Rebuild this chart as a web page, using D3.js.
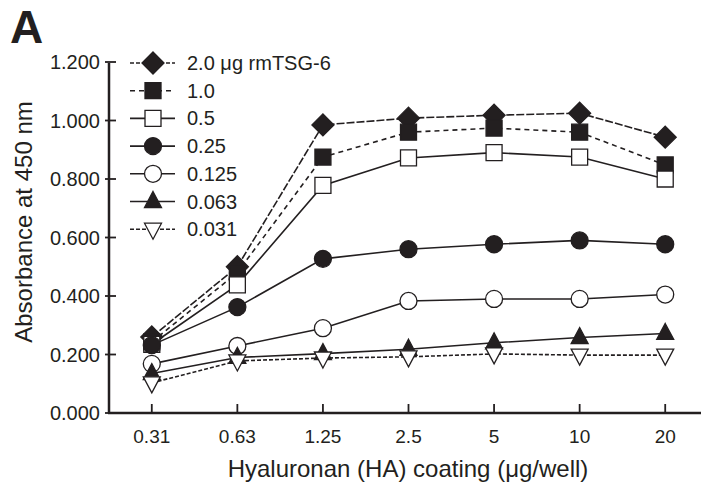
<!DOCTYPE html>
<html>
<head>
<meta charset="utf-8">
<script src="https://cdn.jsdelivr.net/npm/d3@7"></script>
<style>
  body { margin: 0; background: #fff; }
  svg text { font-family: "Liberation Sans", Arial, sans-serif; fill: #231f20; }
</style>
</head>
<body>
<div id="chart"></div>
<script>
// HA coating amounts (x categories)
const coating = ["0.31", "0.63", "1.25", "2.5", "5", "10", "20"];
const yTicks = [0, 0.2, 0.4, 0.6, 0.8, 1.0, 1.2];

// rmTSG-6 series
const seriesNames = ["2.0 \u03bcg rmTSG-6", "1.0", "0.5", "0.25", "0.125", "0.063", "0.031"];
const tsg2000 = [0.26, 0.50, 0.985, 1.008, 1.018, 1.025, 0.943];
const tsg1000 = [0.243, 0.48, 0.875, 0.96, 0.974, 0.96, 0.848];
const tsg0500 = [0.235, 0.438, 0.778, 0.872, 0.89, 0.875, 0.80];
const tsg0250 = [0.232, 0.362, 0.527, 0.56, 0.577, 0.59, 0.577];
const tsg0125 = [0.168, 0.229, 0.29, 0.383, 0.39, 0.39, 0.405];
const tsg0063 = [0.135, 0.19, 0.203, 0.218, 0.24, 0.258, 0.272];
const tsg0031 = [0.103, 0.178, 0.188, 0.192, 0.202, 0.198, 0.198];

const seriesValues = [tsg2000, tsg1000, tsg0500, tsg0250, tsg0125, tsg0063, tsg0031];
const markerType = ["diamond", "square", "square", "circle", "circle", "triangle", "triangleDown"];
const markerFilled = [true, true, false, true, false, true, false];
const lineDash = ["8,2", "5,4", null, null, null, null, "4,2"];

const width = 705, height = 488;
const margin = {left: 109, top: 62, bottom: 75};

const svg = d3.select("#chart").append("svg")
    .attr("width", width)
    .attr("height", height);

const x = d3.scalePoint()
    .domain(coating)
    .range([109, 708])
    .padding(0.5);

const y = d3.scaleLinear()
    .domain([0, 1.2])
    .range([height - margin.bottom, margin.top]);

const x0 = 109, yBase = y(0);

// panel letter
svg.append("text")
    .attr("x", 10).attr("y", 43)
    .style("font-size", "46px")
    .style("font-weight", "bold")
    .text("A");

// y axis
const yAxis = svg.append("g");
yAxis.append("line")
    .attr("x1", x0).attr("x2", x0)
    .attr("y1", y(1.2) + 1).attr("y2", yBase)
    .attr("stroke", "#231f20").attr("stroke-width", 2.5);
yAxis.selectAll(".ytick")
    .data(yTicks)
    .enter().append("line")
    .attr("x1", x0 - 4).attr("x2", x0 + 7)
    .attr("y1", d => y(d)).attr("y2", d => y(d))
    .attr("stroke", "#231f20").attr("stroke-width", 1.8);
yAxis.selectAll(".ylab")
    .data(yTicks)
    .enter().append("text")
    .attr("x", 100)
    .attr("y", d => y(d) + 7)
    .attr("text-anchor", "end")
    .style("font-size", "20px")
    .text(d => d3.format(".3f")(d));

svg.append("text")
    .attr("transform", `translate(32,222) rotate(-90)`)
    .attr("text-anchor", "middle")
    .style("font-size", "24px")
    .text("Absorbance at 450 nm");

// x axis
const xAxis = svg.append("g");
xAxis.append("line")
    .attr("x1", x0 - 1).attr("x2", 701)
    .attr("y1", yBase).attr("y2", yBase)
    .attr("stroke", "#231f20").attr("stroke-width", 2.5);
xAxis.selectAll(".xtick")
    .data(coating)
    .enter().append("line")
    .attr("x1", d => x(d)).attr("x2", d => x(d))
    .attr("y1", yBase).attr("y2", yBase - 9)
    .attr("stroke", "#231f20").attr("stroke-width", 1.8);
xAxis.selectAll(".xlab")
    .data(coating)
    .enter().append("text")
    .attr("x", d => x(d))
    .attr("y", yBase + 30)
    .attr("text-anchor", "middle")
    .style("font-size", "19px")
    .text(d => d);

svg.append("text")
    .attr("x", 408)
    .attr("y", yBase + 64)
    .attr("text-anchor", "middle")
    .style("font-size", "24px")
    .text("Hyaluronan (HA) coating (\u03bcg/well)");

// marker shapes
function markerPath(type) {
    if (type === "diamond") return "M0,-11L11,0L0,11L-11,0Z";
    if (type === "square") return "M-8,-8H8V8H-8Z";
    if (type === "triangle") return "M0,-10L8.5,6L-8.5,6Z";
    if (type === "triangleDown") return "M0,10L8.5,-6L-8.5,-6Z";
    return null;
}

function drawMarker(g, type, filled, cx, cy) {
    let m;
    if (type === "circle") {
        m = g.append("circle").attr("cx", cx).attr("cy", cy).attr("r", 8.5);
    } else {
        m = g.append("path")
            .attr("d", markerPath(type))
            .attr("transform", `translate(${cx},${cy})`);
    }
    m.attr("fill", filled ? "#231f20" : "#fff")
        .attr("stroke", "#231f20")
        .attr("stroke-width", 1.3);
}

const line = d3.line()
    .x((d, i) => x(coating[i]))
    .y(d => y(d));

// series, first legend entry drawn first
seriesValues.forEach((vals, s) => {
    const g = svg.append("g").attr("class", "series");
    g.append("path")
        .attr("d", line(vals))
        .attr("fill", "none")
        .attr("stroke", "#231f20")
        .attr("stroke-width", 1.6)
        .attr("stroke-dasharray", lineDash[s]);
    vals.forEach((v, i) => drawMarker(g, markerType[s], markerFilled[s], x(coating[i]), y(v)));
});

// legend
const legend = svg.append("g").attr("class", "legend");
seriesNames.forEach((name, s) => {
    const ly = 63 + s * 27.7;
    legend.append("line")
        .attr("x1", 130).attr("x2", 175)
        .attr("y1", ly).attr("y2", ly)
        .attr("stroke", "#231f20")
        .attr("stroke-width", 1.6)
        .attr("stroke-dasharray", s === 0 ? "4,2" : lineDash[s]);
    drawMarker(legend, markerType[s], markerFilled[s], 153, ly);
    legend.append("text")
        .attr("x", 187)
        .attr("y", ly + 7)
        .style("font-size", "20px")
        .text(name);
});
</script>
</body>
</html>
